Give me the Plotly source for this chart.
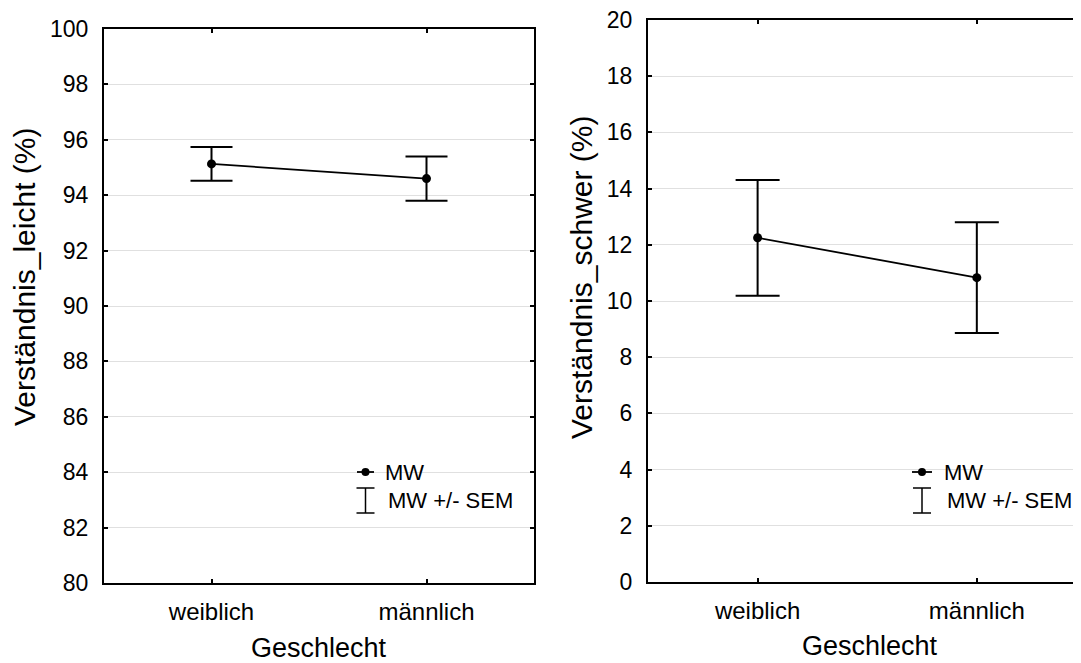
import plotly.graph_objects as go

# page body has an 8px margin, so figure coords = screen coords - 8
OFF = 8
W, H = 1081 - OFF, 663 - OFF

categories = ["weiblich", "männlich"]
leicht_mean = [95.13, 94.60]
leicht_sem = [0.61, 0.80]
schwer_mean = [12.25, 10.83]
schwer_sem = [2.06, 1.97]

FONT = "Liberation Sans, Arial, sans-serif"

def px(x):
    return (x - OFF) / W

def py(y):
    return 1 - (y - OFF) / H

fig = go.Figure()

for mean, sem, xa, ya, cw in [
    (leicht_mean, leicht_sem, "x", "y", 21),
    (schwer_mean, schwer_sem, "x2", "y2", 22),
]:
    fig.add_trace(go.Scatter(
        x=[0, 1], y=mean, xaxis=xa, yaxis=ya,
        mode="lines+markers",
        line=dict(color="black", width=1.8),
        marker=dict(color="black", size=9),
        error_y=dict(type="data", array=sem, visible=True,
                     color="black", thickness=2, width=cw),
        showlegend=False, hoverinfo="skip",
    ))

common_x = dict(
    tickmode="array", tickvals=[0, 1], ticktext=categories,
    ticks="inside", ticklen=4, tickwidth=1.5, tickcolor="black",
    showline=True, linecolor="black", linewidth=2,
    showgrid=False, zeroline=False, automargin=False,
    tickfont=dict(family=FONT, size=24, color="black"),
    ticklabelstandoff=6, ticklabeloverflow="allow",
)
common_y = dict(
    dtick=2, ticks="inside", ticklen=4, tickwidth=1.5, tickcolor="black",
    showline=True, linecolor="black", linewidth=2,
    showgrid=True, gridcolor="#e0e0e0", gridwidth=1, zeroline=False,
    automargin=False,
    tickfont=dict(family=FONT, size=23, color="black"),
    ticklabelstandoff=9, ticklabeloverflow="allow",
)

# screen coords: left plot box x 104..534, y 29..583
# right plot box x 648..(1092 clipped at 1081), y 20..582
fig.update_layout(
    width=W, height=H,
    margin=dict(l=0, r=0, t=0, b=0),
    paper_bgcolor="white", plot_bgcolor="white",
    showlegend=False,
    xaxis=dict(domain=[px(104), px(534)], range=[-0.5, 1.5],
               anchor="y", mirror="ticks", **common_x),
    yaxis=dict(domain=[py(583), py(29)], range=[80, 100],
               anchor="x", mirror="ticks", **common_y),
    xaxis2=dict(domain=[px(648), 1.0], range=[-0.5, 1.5 - 11 / 444],
                anchor="y2", mirror="ticks", **common_x),
    yaxis2=dict(domain=[py(582), py(20)], range=[0, 20],
                anchor="x2", mirror=False, **common_y),
)

annotations = [
    dict(text="Geschlecht", x=px(319), y=py(648), xref="paper", yref="paper",
         showarrow=False, font=dict(family=FONT, size=27, color="black"),
         xanchor="center", yanchor="middle"),
    dict(text="Geschlecht", x=px(870), y=py(646), xref="paper", yref="paper",
         showarrow=False, font=dict(family=FONT, size=27, color="black"),
         xanchor="center", yanchor="middle"),
    dict(text="Verständnis_leicht (%)", x=px(25), y=py(277), xref="paper", yref="paper",
         showarrow=False, textangle=-90, font=dict(family=FONT, size=30, color="black"),
         xanchor="center", yanchor="middle"),
    dict(text="Verständnis_schwer (%)", x=px(581), y=py(278), xref="paper", yref="paper",
         showarrow=False, textangle=-90, font=dict(family=FONT, size=30, color="black"),
         xanchor="center", yanchor="middle"),
]

shapes = []
# legends (manual)
for (lx0, lx1, tx) in [(357, 374, 383), (912, 932, 942)]:
    cx = (lx0 + lx1) / 2
    shapes.append(dict(type="line", xref="paper", yref="paper",
                       x0=px(lx0), x1=px(lx1), y0=py(472), y1=py(472),
                       line=dict(color="black", width=1.8)))
    shapes.append(dict(type="circle", xref="paper", yref="paper",
                       x0=px(cx - 4), x1=px(cx + 4), y0=py(476), y1=py(468),
                       fillcolor="black", line=dict(color="black", width=0)))
    shapes.append(dict(type="line", xref="paper", yref="paper",
                       x0=px(cx), x1=px(cx), y0=py(488), y1=py(513),
                       line=dict(color="black", width=1.5)))
    for yy in (488, 513):
        shapes.append(dict(type="line", xref="paper", yref="paper",
                           x0=px(cx - 9), x1=px(cx + 9), y0=py(yy), y1=py(yy),
                           line=dict(color="black", width=1.5)))
    annotations.append(dict(text="MW", x=px(tx), y=py(472), xref="paper", yref="paper",
                            showarrow=False, xanchor="left", yanchor="middle",
                            font=dict(family=FONT, size=22, color="black")))
    annotations.append(dict(text="MW +/- SEM", x=px(tx + 3), y=py(500), xref="paper", yref="paper",
                            showarrow=False, xanchor="left", yanchor="middle",
                            font=dict(family=FONT, size=22, color="black")))

fig.update_layout(annotations=annotations, shapes=shapes)

fig.write_html("out.html")
